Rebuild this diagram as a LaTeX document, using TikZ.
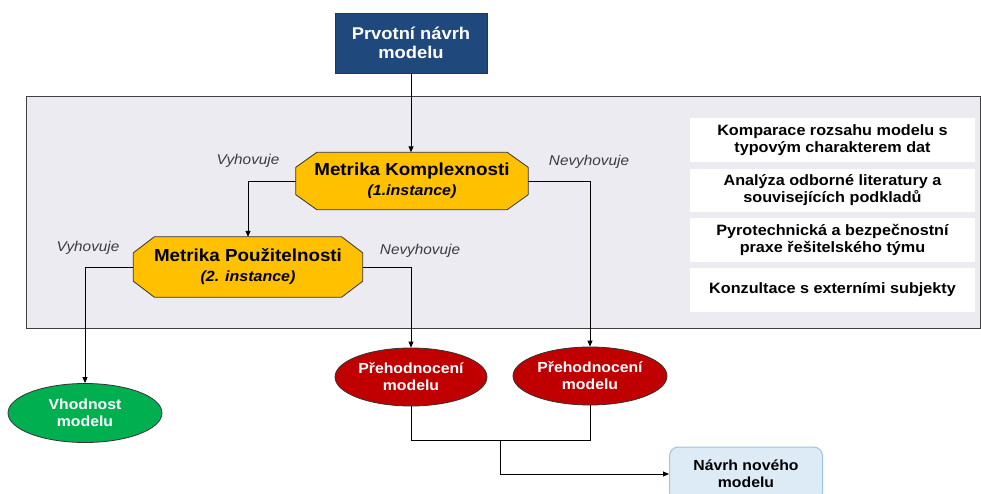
\documentclass[tikz,border=0pt]{standalone}
\usepackage{fontspec}
\setmainfont[FakeStretch=1.08]{Liberation Sans}
\usetikzlibrary{shapes.geometric,arrows.meta,backgrounds}
\definecolor{bgpanel}{RGB}{237,235,242}
\definecolor{navy}{RGB}{31,73,125}
\definecolor{gold}{RGB}{255,192,0}
\definecolor{dred}{RGB}{192,0,0}
\definecolor{dgreen}{RGB}{0,176,80}
\definecolor{lblue}{RGB}{221,235,247}
\definecolor{lbluebd}{RGB}{157,195,230}
\definecolor{lblgray}{RGB}{60,60,60}
\tikzset{
  arr/.style={draw=black, line width=0.8pt, -{Triangle[length=6pt,width=5pt]}},
  conn/.style={draw=black, line width=0.8pt},
  metrika/.style={rectangle, align=center, inner sep=0pt,
    font=\fontsize{17.4}{20}\selectfont\bfseries},
  octo/.style={fill=gold, draw=black!80, line width=0.8pt, line join=miter},
  oval/.style={ellipse, draw=black!80, line width=0.8pt, align=center, text=white, inner sep=0pt,
    font=\fontsize{14.6}{17}\selectfont\bfseries},
  sidebox/.style={rectangle, fill=white, minimum width=285pt, align=center, inner sep=0pt,
    font=\fontsize{15}{17}\selectfont\bfseries},
  lbl/.style={font=\fontsize{14.2}{16}\selectfont\itshape, text=lblgray, inner sep=0pt}
}
\newcommand{\octagonof}[3]{% node, cx, cy
  \draw[octo] ([xshift=#2pt]#1.north west) -- ([xshift=-#2pt]#1.north east)
    -- ([yshift=-#3pt]#1.north east) -- ([yshift=#3pt]#1.south east)
    -- ([xshift=-#2pt]#1.south east) -- ([xshift=#2pt]#1.south west)
    -- ([yshift=#3pt]#1.south west) -- ([yshift=-#3pt]#1.north west) -- cycle;}
\begin{document}
\begin{tikzpicture}[x=1pt,y=-1pt]
\useasboundingbox (0,0) rectangle (981,494);
% panel
\begin{scope}[on background layer]
\node[draw=black!75, fill=bgpanel, line width=0.8pt, minimum width=954pt, minimum height=232pt, inner sep=0pt, anchor=north west] (panel) at (26,96) {};
\end{scope}
% top box
\node[rectangle, fill=navy, draw=black!80, line width=0.8pt, minimum width=152pt, minimum height=60pt, align=center, text=white, inner sep=0pt,
  font=\fontsize{17}{19}\selectfont\bfseries] (top) at (411,43) {Prvotní návrh\\modelu};
% metrika nodes
\node[metrika, minimum width=232pt, minimum height=57pt] (mk) at (412,181) {Metrika Komplexnosti\\{\fontsize{14.8}{20}\selectfont\itshape (1.instance)}};
\node[metrika, minimum width=229pt, minimum height=60pt] (mp) at (248,267) {Metrika Použitelnosti\\{\fontsize{14.8}{20}\selectfont\itshape (2. instance)}};
\begin{scope}[on background layer]
\octagonof{mk}{21}{15}
\octagonof{mp}{21}{16}
\end{scope}
% ellipses
\node[oval, fill=dred, minimum width=152pt, minimum height=58pt] (r1) at (411,377) {Přehodnocení\\modelu};
\node[oval, fill=dred, minimum width=154pt, minimum height=58pt] (r2) at (590,376) {Přehodnocení\\modelu};
\node[oval, fill=dgreen, minimum width=154pt, minimum height=59pt] (g) at (85,413) {Vhodnost\\modelu};
% new model box
\node[rectangle, rounded corners=9pt, fill=lblue, draw=lbluebd, line width=1pt, minimum width=153pt, minimum height=54pt, align=center, inner sep=0pt,
  font=\fontsize{14.6}{17}\selectfont\bfseries] (nav) at (746,474) {Návrh nového\\modelu};
% side boxes
\node[sidebox, minimum height=44pt] (s1) at (832.5,140) {Komparace rozsahu modelu s\\typovým charakterem dat};
\node[sidebox, minimum height=43pt] (s2) at (832.5,190.5) {Analýza odborné literatury a\\souvisejících podkladů};
\node[sidebox, minimum height=44pt] (s3) at (832.5,240) {Pyrotechnická a bezpečnostní\\praxe řešitelského týmu};
\node[sidebox, minimum height=44pt] (s4) at (832.5,290) {Konzultace s externími subjekty};
% connectors
\draw[arr] (top.south) -- (top.south |- mk.north);
\draw[arr] (mk.west) -| (mp.north);
\draw[arr] (mk.east) -| (r2.north);
\draw[arr] (mp.west) -| (g.north);
\draw[arr] (mp.east) -| (r1.north);
\coordinate (j) at (500,440);
\draw[conn] (r1.south) |- (j);
\draw[conn] (r2.south) |- (j);
\draw[arr] (j) |- (nav.west);
% labels
\node[lbl] (l1) at (248,161) {Vyhovuje};
\node[lbl] (l2) at (589,162) {Nevyhovuje};
\node[lbl] (l3) at (88,248) {Vyhovuje};
\node[lbl] (l4) at (420,251) {Nevyhovuje};
\end{tikzpicture}
\end{document}
